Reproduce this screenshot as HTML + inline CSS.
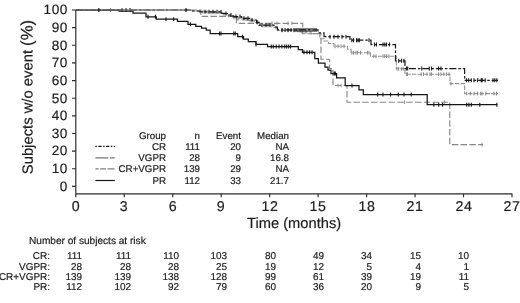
<!DOCTYPE html>
<html><head><meta charset="utf-8"><title>Kaplan-Meier</title>
<style>
html,body{margin:0;padding:0;background:#fff;}
body{width:520px;height:303px;position:relative;overflow:hidden;font-family:"Liberation Sans",sans-serif;color:#1c1c1c;}
.t{position:absolute;white-space:nowrap;line-height:1;transform:rotate(0.03deg);-webkit-text-stroke:0.2px #1c1c1c;}
.yl{font-size:13.6px;text-align:right;width:40px;letter-spacing:0.6px;}
.xl{font-size:14.2px;text-align:center;width:30px;letter-spacing:0.5px;}
.lg{font-size:9.75px;text-align:right;width:60px;}
.tb{font-size:9.95px;text-align:right;width:60px;}
</style></head><body>

<svg width="520" height="303" viewBox="0 0 520 303" style="position:absolute;left:0;top:0">
<path d="M75.8,9.5V193.8H512.3M75.8,10.00h-3.8M75.8,27.64h-3.8M75.8,45.28h-3.8M75.8,62.92h-3.8M75.8,80.56h-3.8M75.8,98.20h-3.8M75.8,115.84h-3.8M75.8,133.48h-3.8M75.8,151.12h-3.8M75.8,168.76h-3.8M75.8,186.40h-3.8M75.80,193.8v3.4M124.27,193.8v3.4M172.73,193.8v3.4M221.20,193.8v3.4M269.67,193.8v3.4M318.13,193.8v3.4M366.60,193.8v3.4M415.07,193.8v3.4M463.53,193.8v3.4M512.00,193.8v3.4" fill="none" stroke="#2a2a2a" stroke-width="1.15"/>
<path d="M76.0,10.0H200.8V16.3H236.4V23.3H302.7V33.7H321.0V59.2H329.6V68.5H333.0V85.5H347.0V102.2H449.8V144.6H483.0" fill="none" stroke="#878787" stroke-width="1.15" stroke-dasharray="6.5 2.3"/>
<path d="M272.0,21.4v3.8M277.0,21.4v3.8M288.0,21.4v3.8M292.0,21.4v3.8M338.0,83.6v3.8M341.0,83.6v3.8M404.6,100.3v3.8M444.4,100.3v3.8M482.0,142.7v3.8" fill="none" stroke="#878787" stroke-width="0.9"/>
<path d="M76.0,10.0H192.0V11.0H199.0V11.8H210.0V12.5H222.0V14.0H228.0V15.6H233.0V17.5H238.0V19.0H247.0V20.5H255.0V22.5H260.0V25.5H274.0V27.5H278.0V30.5H300.0V32.0H311.0V33.6H319.8V38.7H324.0V41.0H328.5V43.5H334.0V46.3H347.5V49.2H351.0V52.7H370.5V56.2H396.3V68.8H405.0V74.2H450.0V83.6H464.6V93.6H498.0" fill="none" stroke="#929292" stroke-width="1.05" stroke-dasharray="4.5 1.3"/>
<path d="M203.0,9.9v3.8M207.0,9.9v3.8M211.0,10.6v3.8M215.0,10.6v3.8M219.0,10.6v3.8M224.0,12.1v3.8M229.0,13.7v3.8M234.0,15.6v3.8M238.0,17.1v3.8M243.0,17.1v3.8M246.0,17.1v3.8M250.0,18.6v3.8M254.0,18.6v3.8M258.0,20.6v3.8M264.0,23.6v3.8M268.0,23.6v3.8M272.0,23.6v3.8M276.0,25.6v3.8M282.0,28.6v3.8M288.0,28.6v3.8M294.0,28.6v3.8M298.0,28.6v3.8M302.0,30.1v3.8M306.0,30.1v3.8M335.0,44.4v3.8M338.0,44.4v3.8M341.0,44.4v3.8M344.0,44.4v3.8M351.8,50.8v3.8M353.5,50.8v3.8M356.0,50.8v3.8M357.5,50.8v3.8M360.5,50.8v3.8M367.4,50.8v3.8M369.0,50.8v3.8M373.7,54.3v3.8M376.0,54.3v3.8M383.0,54.3v3.8M384.7,54.3v3.8M386.5,54.3v3.8M388.8,54.3v3.8M397.0,66.9v3.8M398.7,66.9v3.8M401.6,66.9v3.8M403.3,66.9v3.8M406.3,72.3v3.8M407.5,72.3v3.8M421.2,72.3v3.8M423.5,72.3v3.8M427.0,72.3v3.8M429.9,72.3v3.8M431.6,72.3v3.8M438.6,72.3v3.8M440.9,72.3v3.8M443.8,72.3v3.8M446.6,72.3v3.8M449.0,72.3v3.8M451.0,81.7v3.8M466.7,91.7v3.8M470.4,91.7v3.8M474.0,91.7v3.8M477.6,91.7v3.8M480.7,91.7v3.8M482.1,91.7v3.8M485.8,91.7v3.8M493.9,91.7v3.8M496.5,91.7v3.8" fill="none" stroke="#8a8a8a" stroke-width="1"/>
<path d="M76.0,10.0H192.0V11.0H200.0V11.8H222.0V13.5H228.0V15.0H233.0V16.6H241.6V18.3H249.7V20.0H256.6V22.3H259.0V25.2H274.0V27.0H277.4V29.9H318.0V32.9H324.0V36.7H350.0V40.2H371.0V44.6H395.5V60.8H405.0V68.6H464.6V80.3H498.0" fill="none" stroke="#1a1a1a" stroke-width="1.2" stroke-dasharray="7 2 2.5 2"/>
<path d="M122.0,8.0v4.0M126.0,8.0v4.0M130.0,8.0v4.0M205.0,9.8v4.0M209.0,9.8v4.0M213.0,9.8v4.0M217.0,9.8v4.0M221.0,9.8v4.0M226.0,11.5v4.0M231.0,13.0v4.0M236.0,14.6v4.0M240.0,14.6v4.0M244.0,16.3v4.0M248.0,16.3v4.0M252.0,18.0v4.0M257.0,20.3v4.0M262.0,23.2v4.0M266.0,23.2v4.0M270.0,23.2v4.0M282.0,27.9v4.0M285.0,27.9v4.0M288.0,27.9v4.0M291.0,27.9v4.0M294.0,27.9v4.0M296.0,27.9v4.0M298.0,27.9v4.0M300.0,27.9v4.0M302.0,27.9v4.0M304.0,27.9v4.0M306.0,27.9v4.0M308.0,27.9v4.0M310.0,27.9v4.0M312.0,27.9v4.0M314.0,27.9v4.0M316.0,27.9v4.0M330.0,34.7v4.0M334.0,34.7v4.0M338.0,34.7v4.0M342.0,34.7v4.0M346.0,34.7v4.0M351.8,38.2v4.0M353.5,38.2v4.0M356.5,38.2v4.0M358.0,38.2v4.0M359.3,38.2v4.0M369.0,38.2v4.0M374.5,42.6v4.0M376.5,42.6v4.0M383.0,42.6v4.0M384.8,42.6v4.0M386.5,42.6v4.0M389.4,42.6v4.0M398.7,58.8v4.0M401.6,58.8v4.0M403.9,58.8v4.0M406.5,66.6v4.0M407.7,66.6v4.0M421.8,66.6v4.0M429.3,66.6v4.0M431.6,66.6v4.0M438.6,66.6v4.0M440.9,66.6v4.0M466.4,78.3v4.0M468.6,78.3v4.0M471.3,78.3v4.0M474.0,78.3v4.0M477.6,78.3v4.0M481.2,78.3v4.0M482.3,78.3v4.0M485.2,78.3v4.0M493.0,78.3v4.0M494.8,78.3v4.0M496.8,78.3v4.0" fill="none" stroke="#1a1a1a" stroke-width="1.1"/>
<path d="M76.0,10.0H119.0V11.0H133.0V13.0H146.0V16.8H156.3V19.2H177.5V21.4H188.0V24.3H195.8V26.3H201.5V28.2H206.3V30.0H210.2V33.5H237.7V36.7H243.5V39.2H248.3V41.5H256.0V44.4H267.5V46.6H298.3V49.5H302.5V52.3H314.8V58.7H318.4V63.0H325.0V67.0H328.0V70.0H331.0V73.5H336.6V77.8H345.2V85.6H359.0V89.8H363.3V94.6H427.2V104.7H497.3" fill="none" stroke="#161616" stroke-width="1.25"/>
<path d="M148.0,14.8v4.0M155.4,14.8v4.0M166.0,17.2v4.0M173.7,17.2v4.0M190.4,22.3v4.0M219.5,31.5v4.0M221.0,31.5v4.0M233.8,31.5v4.0M235.3,31.5v4.0M242.5,34.7v4.0M256.0,42.4v4.0M271.3,44.6v4.0M273.3,44.6v4.0M276.2,44.6v4.0M279.0,44.6v4.0M281.9,44.6v4.0M284.8,44.6v4.0M286.7,44.6v4.0M288.7,44.6v4.0M290.6,44.6v4.0M304.0,50.3v4.0M307.0,50.3v4.0M309.5,50.3v4.0M312.0,50.3v4.0M334.3,71.5v4.0M335.3,71.5v4.0M352.0,83.6v4.0M377.7,92.6v4.0M382.9,92.6v4.0M390.6,92.6v4.0M398.3,92.6v4.0M404.0,92.6v4.0M411.2,92.6v4.0M433.8,102.7v4.0M438.7,102.7v4.0M442.5,102.7v4.0M466.7,102.7v4.0M468.9,102.7v4.0M471.3,102.7v4.0M479.8,102.7v4.0M496.8,102.7v4.0" fill="none" stroke="#161616" stroke-width="1.1"/>
<path d="M76.3,10H191" fill="none" stroke="#8e8e8e" stroke-width="1.1"/>
<path d="M98.8,8.2v3.6M186,8.2v3.6" fill="none" stroke="#222" stroke-width="1.6"/>
<path d="M110.7,8.2v3.6" fill="none" stroke="#555" stroke-width="1"/>
<path d="M95.4,146.3H114.8" fill="none" stroke="#111" stroke-width="1.3" stroke-dasharray="1.5 1.5 3.2 1.5"/>
<path d="M95.4,157.8H114.8" fill="none" stroke="#777" stroke-width="1.2" stroke-dasharray="13 1.5 5 1"/>
<path d="M95.4,168.9H114.8" fill="none" stroke="#808080" stroke-width="1.2" stroke-dasharray="3.3 1.5 5.8 1.5 7 1"/>
<path d="M95.4,180.5H114.8" fill="none" stroke="#161616" stroke-width="1.2"/>
</svg>
<div id="txt" style="position:absolute;left:0;top:0;width:520px;height:303px;will-change:transform;">
<div class="t yl" style="left:28.4px;top:3.3px">100</div>
<div class="t yl" style="left:28.4px;top:20.9px">90</div>
<div class="t yl" style="left:28.4px;top:38.6px">80</div>
<div class="t yl" style="left:28.4px;top:56.2px">70</div>
<div class="t yl" style="left:28.4px;top:73.9px">60</div>
<div class="t yl" style="left:28.4px;top:91.5px">50</div>
<div class="t yl" style="left:28.4px;top:109.1px">40</div>
<div class="t yl" style="left:28.4px;top:126.8px">30</div>
<div class="t yl" style="left:28.4px;top:144.4px">20</div>
<div class="t yl" style="left:28.4px;top:162.1px">10</div>
<div class="t yl" style="left:28.4px;top:179.7px">0</div>
<div class="t xl" style="left:60.8px;top:198.9px">0</div>
<div class="t xl" style="left:109.3px;top:198.9px">3</div>
<div class="t xl" style="left:157.7px;top:198.9px">6</div>
<div class="t xl" style="left:206.2px;top:198.9px">9</div>
<div class="t xl" style="left:254.7px;top:198.9px">12</div>
<div class="t xl" style="left:303.1px;top:198.9px">15</div>
<div class="t xl" style="left:351.6px;top:198.9px">18</div>
<div class="t xl" style="left:400.1px;top:198.9px">21</div>
<div class="t xl" style="left:448.5px;top:198.9px">24</div>
<div class="t xl" style="left:497.0px;top:198.9px">27</div>
<div class="t" id="ytitle" style="left:28.2px;top:97.2px;font-size:14.8px;transform:translate(-50%,-50%) rotate(-90.03deg);">Subjects w/o event <span style="font-size:16.8px">(%)</span></div>
<div class="t" id="xtitle" style="left:246.7px;top:216.2px;font-size:14.7px;">Time (months)</div>
<div class="t lg" style="left:106.4px;top:130.6px">Group</div>
<div class="t lg" style="left:139.8px;top:130.6px">n</div>
<div class="t lg" style="left:180.6px;top:130.6px">Event</div>
<div class="t lg" style="left:228.8px;top:130.6px">Median</div>
<div class="t lg" style="left:106.4px;top:142.1px">CR</div>
<div class="t lg" style="left:139.8px;top:142.1px">111</div>
<div class="t lg" style="left:180.6px;top:142.1px">20</div>
<div class="t lg" style="left:228.8px;top:142.1px">NA</div>
<div class="t lg" style="left:106.4px;top:153.1px">VGPR</div>
<div class="t lg" style="left:139.8px;top:153.1px">28</div>
<div class="t lg" style="left:180.6px;top:153.1px">9</div>
<div class="t lg" style="left:228.8px;top:153.1px">16.8</div>
<div class="t lg" style="left:106.4px;top:164.4px">CR+VGPR</div>
<div class="t lg" style="left:139.8px;top:164.4px">139</div>
<div class="t lg" style="left:180.6px;top:164.4px">29</div>
<div class="t lg" style="left:228.8px;top:164.4px">NA</div>
<div class="t lg" style="left:106.4px;top:175.8px">PR</div>
<div class="t lg" style="left:139.8px;top:175.8px">112</div>
<div class="t lg" style="left:180.6px;top:175.8px">33</div>
<div class="t lg" style="left:228.8px;top:175.8px">21.7</div>
<div class="t" style="left:28.6px;top:236.4px;font-size:10.1px;">Number of subjects at risk</div>
<div class="t tb" style="left:-9.6px;top:251.0px">CR:</div>
<div class="t tb" style="left:22.1px;top:251.0px">111</div>
<div class="t tb" style="left:70.5px;top:251.0px">111</div>
<div class="t tb" style="left:118.8px;top:251.0px">110</div>
<div class="t tb" style="left:167.2px;top:251.0px">103</div>
<div class="t tb" style="left:215.5px;top:251.0px">80</div>
<div class="t tb" style="left:263.9px;top:251.0px">49</div>
<div class="t tb" style="left:312.3px;top:251.0px">34</div>
<div class="t tb" style="left:360.6px;top:251.0px">15</div>
<div class="t tb" style="left:409.0px;top:251.0px">10</div>
<div class="t tb" style="left:-9.6px;top:261.6px">VGPR:</div>
<div class="t tb" style="left:22.1px;top:261.6px">28</div>
<div class="t tb" style="left:70.5px;top:261.6px">28</div>
<div class="t tb" style="left:118.8px;top:261.6px">28</div>
<div class="t tb" style="left:167.2px;top:261.6px">25</div>
<div class="t tb" style="left:215.5px;top:261.6px">19</div>
<div class="t tb" style="left:263.9px;top:261.6px">12</div>
<div class="t tb" style="left:312.3px;top:261.6px">5</div>
<div class="t tb" style="left:360.6px;top:261.6px">4</div>
<div class="t tb" style="left:409.0px;top:261.6px">1</div>
<div class="t tb" style="left:-9.6px;top:271.6px">CR+VGPR:</div>
<div class="t tb" style="left:22.1px;top:271.6px">139</div>
<div class="t tb" style="left:70.5px;top:271.6px">139</div>
<div class="t tb" style="left:118.8px;top:271.6px">138</div>
<div class="t tb" style="left:167.2px;top:271.6px">128</div>
<div class="t tb" style="left:215.5px;top:271.6px">99</div>
<div class="t tb" style="left:263.9px;top:271.6px">61</div>
<div class="t tb" style="left:312.3px;top:271.6px">39</div>
<div class="t tb" style="left:360.6px;top:271.6px">19</div>
<div class="t tb" style="left:409.0px;top:271.6px">11</div>
<div class="t tb" style="left:-9.6px;top:282.2px">PR:</div>
<div class="t tb" style="left:22.1px;top:282.2px">112</div>
<div class="t tb" style="left:70.5px;top:282.2px">102</div>
<div class="t tb" style="left:118.8px;top:282.2px">92</div>
<div class="t tb" style="left:167.2px;top:282.2px">79</div>
<div class="t tb" style="left:215.5px;top:282.2px">60</div>
<div class="t tb" style="left:263.9px;top:282.2px">36</div>
<div class="t tb" style="left:312.3px;top:282.2px">20</div>
<div class="t tb" style="left:360.6px;top:282.2px">9</div>
<div class="t tb" style="left:409.0px;top:282.2px">5</div>
</div>
</body></html>
